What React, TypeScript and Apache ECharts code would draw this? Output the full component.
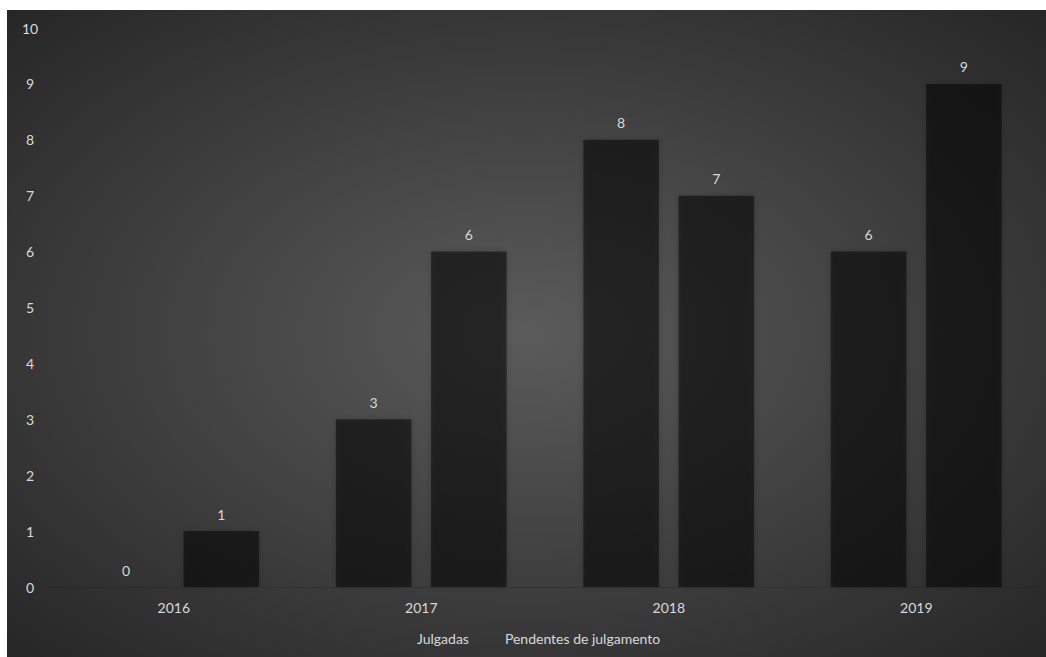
import React, { useEffect, useRef } from "react";
import * as echarts from "echarts";

const years = ["2016", "2017", "2018", "2019"];
const julgadas = [0, 3, 8, 6];
const pendentes = [1, 6, 7, 9];
const seriesNames = ["Julgadas", "Pendentes de julgamento"];

const TEXT = "#d9d9d9";
const FONT = "Lato";

export default function App() {
  const ref = useRef<HTMLDivElement>(null);
  useEffect(() => {
    if (!ref.current) return;
    const chart = echarts.init(ref.current, null, { renderer: "svg" });
    const barStyle = {
      color: "rgba(0,0,0,0.5)",
      shadowBlur: 6,
      shadowColor: "rgba(0,0,0,0.35)",
    };
    const label = {
      show: true,
      position: "top" as const,
      distance: 10,
      color: TEXT,
      fontFamily: FONT,
      fontSize: 14,
    };
    chart.setOption({
      animation: false,
      textStyle: { fontFamily: FONT },
      grid: { left: 43, right: 6, top: 18, bottom: 70, containLabel: false },
      legend: {
        data: seriesNames,
        left: 390,
        top: 616,
        icon: "rect",
        itemWidth: 10,
        itemHeight: 10,
        itemGap: 21,
        itemStyle: { opacity: 0 },
        textStyle: { color: TEXT, fontFamily: FONT, fontSize: 14 },
      },
      xAxis: {
        type: "category",
        data: years,
        axisTick: { show: false },
        axisLine: { show: true, lineStyle: { color: "rgba(30,30,30,0.3)", width: 1 } },
        axisLabel: { color: TEXT, fontFamily: FONT, fontSize: 14, margin: 13 },
      },
      yAxis: {
        type: "value",
        min: 0,
        max: 10,
        interval: 1,
        splitLine: { show: false },
        axisLine: { show: false },
        axisTick: { show: false },
        axisLabel: { color: TEXT, fontFamily: FONT, fontSize: 14, margin: 20, align: "center" },
      },
      series: [
        {
          name: seriesNames[0],
          type: "bar",
          data: julgadas,
          barGap: "26%",
          barCategoryGap: "31%",
          itemStyle: barStyle,
          label,
        },
        {
          name: seriesNames[1],
          type: "bar",
          data: pendentes,
          barGap: "26%",
          barCategoryGap: "31%",
          itemStyle: barStyle,
          label,
        },
      ],
    });
    return () => chart.dispose();
  }, []);
  return (
    <div
      ref={ref}
      style={{
        position: "absolute",
        left: 7,
        top: 10,
        width: 1039,
        height: 647,
        background: "radial-gradient(ellipse farthest-corner at 50% 50%, #5b5b5b 0%, #262626 100%)",
      }}
    />
  );
}
